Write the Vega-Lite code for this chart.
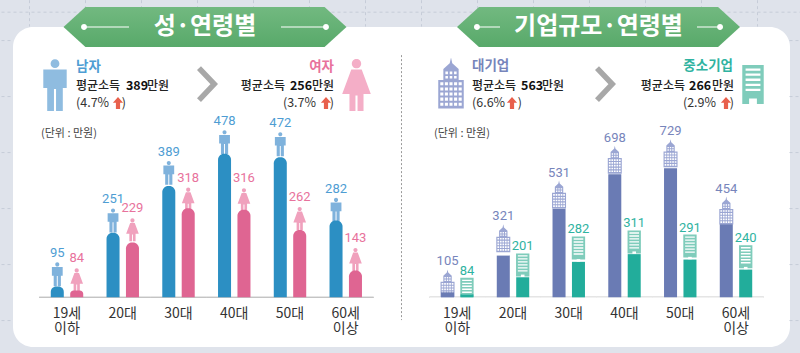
{"$schema":"https://vega.github.io/schema/vega-lite/v6.json","width":777,"height":320,"autosize":{"type":"none"},"padding":{"left":13,"top":27,"right":10,"bottom":6},"background":"#dfe3eb","view":{"fill":"#ffffff","stroke":null,"cornerRadius":20},"config":{"font":"Noto Sans CJK KR","point":{"opacity":1,"filled":true,"stroke":null},"tick":{"opacity":1},"text":{"baseline":"middle","font":"Noto Sans CJK KR"}},"resolve":{"scale":{"y":"independent"},"axis":{"y":"independent"}},"datasets":{"rows":[
{"panel":"성별","slot":"성별|19세 이하","series":"남자","rank":"a","value":95,"column":31},
{"panel":"성별","slot":"성별|19세 이하","series":"여자","rank":"b","value":84,"column":20},
{"panel":"성별","slot":"성별|20대","series":"남자","rank":"a","value":251,"column":187},
{"panel":"성별","slot":"성별|20대","series":"여자","rank":"b","value":229,"column":159},
{"panel":"성별","slot":"성별|30대","series":"남자","rank":"a","value":389,"column":323},
{"panel":"성별","slot":"성별|30대","series":"여자","rank":"b","value":318,"column":258},
{"panel":"성별","slot":"성별|40대","series":"남자","rank":"a","value":478,"column":416},
{"panel":"성별","slot":"성별|40대","series":"여자","rank":"b","value":316,"column":254},
{"panel":"성별","slot":"성별|50대","series":"남자","rank":"a","value":472,"column":406},
{"panel":"성별","slot":"성별|50대","series":"여자","rank":"b","value":262,"column":195},
{"panel":"성별","slot":"성별|60세 이상","series":"남자","rank":"a","value":282,"column":223},
{"panel":"성별","slot":"성별|60세 이상","series":"여자","rank":"b","value":143,"column":78},
{"panel":"기업","slot":"기업|19세 이하","series":"대기업","rank":"a","value":105,"column":24},
{"panel":"기업","slot":"기업|19세 이하","series":"중소기업","rank":"b","value":84,"column":14},
{"panel":"기업","slot":"기업|20대","series":"대기업","rank":"a","value":321,"column":200},
{"panel":"기업","slot":"기업|20대","series":"중소기업","rank":"b","value":201,"column":96},
{"panel":"기업","slot":"기업|30대","series":"대기업","rank":"a","value":531,"column":424},
{"panel":"기업","slot":"기업|30대","series":"중소기업","rank":"b","value":282,"column":170},
{"panel":"기업","slot":"기업|40대","series":"대기업","rank":"a","value":698,"column":590},
{"panel":"기업","slot":"기업|40대","series":"중소기업","rank":"b","value":311,"column":207},
{"panel":"기업","slot":"기업|50대","series":"대기업","rank":"a","value":729,"column":618},
{"panel":"기업","slot":"기업|50대","series":"중소기업","rank":"b","value":291,"column":181},
{"panel":"기업","slot":"기업|60세 이상","series":"대기업","rank":"a","value":454,"column":350},
{"panel":"기업","slot":"기업|60세 이상","series":"중소기업","rank":"b","value":240,"column":133}
]},"layer":[
{"data":{"values":[{"t":"배경"}]},"mark":{"type":"point","filled":false,"stroke":"#c6ccd8","strokeWidth":1,"strokeDash":[3,3],"size":640000,"shape":"M-1 -.411H1M-1 -.34H-.97M.97 -.34H1M-1 -.2H-.97M.97 -.2H1M-1 -.06H-.97M.97 -.06H1M-1 .08H-.97M.97 .08H1M-1 .22H-.97M.97 .22H1M-1 .36H-.97M.97 .36H1M-.93 -.441V-.375M-.79 -.441V-.375M-.65 -.441V-.375M-.51 -.441V-.375M-.37 -.441V-.375M-.23 -.441V-.375M-.09 -.441V-.375M.05 -.441V-.375M.19 -.441V-.375M.33 -.441V-.375M.47 -.441V-.375M.61 -.441V-.375M.75 -.441V-.375M.89 -.441V-.375"},"encoding":{"x":{"datum":"|","type":"nominal"},"y":{"datum":350,"type":"quantitative","scale":{"domain":[-144,783.5]},"axis":null}}},
{"data":{"name":"rows"},"transform":[{"filter":"datum.panel==='성별'"}],"mark":{"type":"tick","orient":"horizontal","thickness":1.2,"color":"#c4c4c4","size":55.75},"encoding":{"x":{"field":"slot","type":"nominal","title":null,"scale":{"domain":["성별|19세 이하","성별|20대","성별|30대","성별|40대","성별|50대","성별|60세 이상","|","기업|19세 이하","기업|20대","기업|30대","기업|40대","기업|50대","기업|60세 이상"],"paddingInner":0,"paddingOuter":0.4686,"align":0.5},"axis":{"orient":"bottom","offset":-49.7,"domain":false,"ticks":false,"labelAngle":0,"labelAlign":"center","labelPadding":9,"labelFontSize":14,"labelColor":"#333333","labelFont":"Noto Sans CJK KR","labelLineHeight":15.5,"labelBaseline":"top","labelExpr":"split(split(datum.label,'|')[1],' ')"}},"y":{"datum":0,"type":"quantitative","scale":{"domain":[-144,783.5]},"axis":null}}},
{"data":{"name":"rows"},"transform":[{"filter":"datum.panel==='기업'"}],"mark":{"type":"tick","orient":"horizontal","thickness":1.2,"color":"#c4c4c4","size":55.75},"encoding":{"x":{"field":"slot","type":"nominal"},"y":{"datum":0,"type":"quantitative","scale":{"domain":[-238,1295.3]},"axis":null}}},
{"data":{"values":[{"t":"구분선"}]},"mark":{"type":"rule","color":"#9a9a9a","strokeDash":[2,2],"strokeWidth":1},"encoding":{"x":{"datum":"|","type":"nominal"},"y":{"datum":702,"type":"quantitative","scale":{"domain":[-144,783.5]},"axis":null},"y2":{"datum":-66}}},

{"data":{"values":[{"t":"제목"}]},"mark":{"type":"point","xOffset":26.5,"size":80089,"color":{"gradient":"linear","x1":0,"y1":0,"x2":0,"y2":1,"stops":[{"offset":0,"color":"#72b980"},{"offset":1,"color":"#58a96a"}]},"shape":"M-1 0L-.845 -.141L.845 -.141L1 0L.845 .141L-.845 .141Z"},"encoding":{"x":{"datum":"성별|30대","type":"nominal"},"y":{"datum":783.5,"type":"quantitative","scale":{"domain":[-144,783.5]},"axis":null}}},
{"data":{"values":[{"t":"제목"}]},"mark":{"type":"point","xOffset":29.75,"size":80089,"color":{"gradient":"linear","x1":0,"y1":0,"x2":0,"y2":1,"stops":[{"offset":0,"color":"#72b980"},{"offset":1,"color":"#58a96a"}]},"shape":"M-1 0L-.845 -.141L.845 -.141L1 0L.845 .141L-.845 .141Z"},"encoding":{"x":{"datum":"기업|30대","type":"nominal"},"y":{"datum":783.5,"type":"quantitative","scale":{"domain":[-144,783.5]},"axis":null}}},
{"data":{"values":[{"t":"장식"}]},"mark":{"type":"point","xOffset":26.5,"size":80089,"color":"#ffffff","shape":"M-.876 0A.021 .021 0 1 1 -.834 0A.021 .021 0 1 1 -.876 0ZM-.855 -.003H-.537V.003H-.855ZM.855 -.003V.003H.537V-.003ZM.834 0A.021 .021 0 1 1 .876 0A.021 .021 0 1 1 .834 0Z"},"encoding":{"x":{"datum":"성별|30대","type":"nominal"},"y":{"datum":783.5,"type":"quantitative","scale":{"domain":[-144,783.5]},"axis":null}}},
{"data":{"values":[{"t":"장식"}]},"mark":{"type":"point","xOffset":29.75,"size":80089,"color":"#ffffff","shape":"M-.88 0A.021 .021 0 1 1 -.838 0A.021 .021 0 1 1 -.88 0ZM-.86 -.003H-.696V.003H-.86ZM.86 -.003V.003H.696V-.003ZM.838 0A.021 .021 0 1 1 .88 0A.021 .021 0 1 1 .838 0Z"},"encoding":{"x":{"datum":"기업|30대","type":"nominal"},"y":{"datum":783.5,"type":"quantitative","scale":{"domain":[-144,783.5]},"axis":null}}},
{"data":{"values":[{"t":"성·연령별"}]},"mark":{"type":"text","dx":26.5,"fontSize":24,"fontWeight":700,"color":"#ffffff"},"encoding":{"text":{"field":"t"},"x":{"datum":"성별|30대","type":"nominal"},"y":{"datum":783.5,"type":"quantitative","scale":{"domain":[-144,783.5]},"axis":null}}},
{"data":{"values":[{"t":"기업규모·연령별"}]},"mark":{"type":"text","dx":29.75,"fontSize":24,"fontWeight":700,"color":"#ffffff"},"encoding":{"text":{"field":"t"},"x":{"datum":"기업|30대","type":"nominal"},"y":{"datum":783.5,"type":"quantitative","scale":{"domain":[-144,783.5]},"axis":null}}},

{"data":{"name":"rows"},"transform":[{"filter":"datum.series==='남자'"}],"mark":{"type":"point","yOffset":9.7,"size":576,"color":"#7fb2dc","shape":"M-.17 -.82A.17 .17 0 1 1 .17 -.82A.17 .17 0 1 1 -.17 -.82ZM-.45 -.6L.45 -.6L.45 .12L.3 .12L.3 1L.04 1L.04 .15L-.04 .15L-.04 1L-.3 1L-.3 .12L-.45 .12Z"},"encoding":{"x":{"field":"slot","type":"nominal"},"xOffset":{"field":"rank","type":"nominal","scale":{"domain":["a","b"],"paddingInner":0.33,"paddingOuter":0.6}},"y":{"field":"value","type":"quantitative","scale":{"domain":[-144,783.5]},"axis":null}}},
{"data":{"name":"rows"},"transform":[{"filter":"datum.series==='여자'"}],"mark":{"type":"point","yOffset":11.5,"size":529,"color":"#f0a1bd","shape":"M-.18 -.82A.18 .18 0 1 1 .18 -.82A.18 .18 0 1 1 -.18 -.82ZM-.2 -.6L.2 -.6L.55 .35L.27 .35L.27 1L.04 1L.04 .4L-.04 .4L-.04 1L-.27 1L-.27 .35L-.55 .35Z"},"encoding":{"x":{"field":"slot","type":"nominal"},"xOffset":{"field":"rank","type":"nominal"},"y":{"field":"value","type":"quantitative","scale":{"domain":[-144,783.5]},"axis":null}}},
{"data":{"name":"rows"},"transform":[{"filter":"datum.series==='대기업'"}],"mark":{"type":"point","yOffset":8,"size":784,"color":"#9ba6d3","shape":"M0 -1L.05 -.78L.3 -.55L.3 -.12L.5 -.12L.5 1L-.5 1L-.5 -.12L-.3 -.12L-.3 -.55L-.05 -.78ZM-.22 -.45v.1h.1v-.1zM-.05 -.45v.1h.1v-.1zM.12 -.45v.1h.1v-.1zM-.22 -.28v.1h.1v-.1zM-.05 -.28v.1h.1v-.1zM.12 -.28v.1h.1v-.1zM-.42 -.03v.12h.12v-.12zM-.24 -.03v.12h.12v-.12zM-.06 -.03v.12h.12v-.12zM.12 -.03v.12h.12v-.12zM.3 -.03v.12h.12v-.12zM-.42 .17v.12h.12v-.12zM-.24 .17v.12h.12v-.12zM-.06 .17v.12h.12v-.12zM.12 .17v.12h.12v-.12zM.3 .17v.12h.12v-.12zM-.42 .37v.12h.12v-.12zM-.24 .37v.12h.12v-.12zM-.06 .37v.12h.12v-.12zM.12 .37v.12h.12v-.12zM.3 .37v.12h.12v-.12zM-.42 .57v.12h.12v-.12zM-.24 .57v.12h.12v-.12zM-.06 .57v.12h.12v-.12zM.12 .57v.12h.12v-.12zM.3 .57v.12h.12v-.12zM-.42 .77v.12h.12v-.12zM-.24 .77v.12h.12v-.12zM-.06 .77v.12h.12v-.12zM.12 .77v.12h.12v-.12zM.3 .77v.12h.12v-.12z"},"encoding":{"x":{"field":"slot","type":"nominal"},"xOffset":{"field":"rank","type":"nominal"},"y":{"field":"value","type":"quantitative","scale":{"domain":[-238,1295.3]},"axis":null}}},
{"data":{"name":"rows"},"transform":[{"filter":"datum.series==='중소기업'"}],"mark":{"type":"point","yOffset":9.5,"size":529,"color":"#7fccbb","shape":"M-.58 -1H.58V1H-.58ZM-.42 -.84v.12h.84v-.12zM-.42 -.58v.12h.84v-.12zM-.42 -.32v.12h.84v-.12zM-.42 -.06v.12h.84v-.12zM-.42 .2v.12h.84v-.12zM-.42 .46v.12h.84v-.12z"},"encoding":{"x":{"field":"slot","type":"nominal"},"xOffset":{"field":"rank","type":"nominal"},"y":{"field":"value","type":"quantitative","scale":{"domain":[-238,1295.3]},"axis":null}}},

{"data":{"name":"rows"},"transform":[{"filter":"datum.panel==='기업'"}],"mark":{"type":"bar","color":"#ffffff"},"encoding":{"x":{"field":"slot","type":"nominal"},"y":{"datum":-1,"type":"quantitative","scale":{"domain":[-238,1295.3]},"axis":null},"y2":{"datum":-30}}},

{"data":{"name":"rows"},"transform":[{"filter":"datum.panel==='성별'"}],"mark":{"type":"bar","cornerRadiusTopLeft":6,"cornerRadiusTopRight":6},"encoding":{"x":{"field":"slot","type":"nominal"},"xOffset":{"field":"rank","type":"nominal"},"y":{"field":"column","type":"quantitative","scale":{"domain":[-144,783.5]},"axis":null},"y2":{"datum":0},"color":{"field":"series","type":"nominal","legend":null,"scale":{"domain":["남자","여자","대기업","중소기업"],"range":["#2c8fc3","#df6592","#6a7bb4","#22ad9b"]}}}},
{"data":{"name":"rows"},"transform":[{"filter":"datum.panel==='기업'"}],"mark":{"type":"bar"},"encoding":{"x":{"field":"slot","type":"nominal"},"xOffset":{"field":"rank","type":"nominal"},"y":{"field":"column","type":"quantitative","scale":{"domain":[-238,1295.3]},"axis":null},"y2":{"datum":0},"color":{"field":"series","type":"nominal","legend":null}}},
{"data":{"name":"rows"},"transform":[{"filter":"datum.series==='중소기업' && datum.column>50"}],"mark":{"type":"point","yOffset":-1.5,"size":36,"color":"#ffffff","shape":"M-.6 -.4H.6V.4H-.6Z"},"encoding":{"x":{"field":"slot","type":"nominal"},"xOffset":{"field":"rank","type":"nominal"},"y":{"field":"column","type":"quantitative","scale":{"domain":[-238,1295.3]},"axis":null}}},

{"data":{"name":"rows"},"transform":[{"filter":"datum.series==='남자'"}],"mark":{"type":"text","dy":-11.5,"font":"Roboto","fontSize":13,"color":"#4e9dd3"},"encoding":{"text":{"field":"value"},"x":{"field":"slot","type":"nominal"},"xOffset":{"field":"rank","type":"nominal"},"y":{"field":"value","type":"quantitative","scale":{"domain":[-144,783.5]},"axis":null}}},
{"data":{"name":"rows"},"transform":[{"filter":"datum.series==='여자'"}],"mark":{"type":"text","dy":-10,"font":"Roboto","fontSize":13,"color":"#e8729c"},"encoding":{"text":{"field":"value"},"x":{"field":"slot","type":"nominal"},"xOffset":{"field":"rank","type":"nominal"},"y":{"field":"value","type":"quantitative","scale":{"domain":[-144,783.5]},"axis":null}}},
{"data":{"name":"rows"},"transform":[{"filter":"datum.series==='대기업'"}],"mark":{"type":"text","dy":-14,"font":"Roboto","fontSize":13,"color":"#7785bb"},"encoding":{"text":{"field":"value"},"x":{"field":"slot","type":"nominal"},"xOffset":{"field":"rank","type":"nominal"},"y":{"field":"value","type":"quantitative","scale":{"domain":[-238,1295.3]},"axis":null}}},
{"data":{"name":"rows"},"transform":[{"filter":"datum.series==='중소기업'"}],"mark":{"type":"text","dy":-9,"font":"Roboto","fontSize":13,"color":"#2fb3a1"},"encoding":{"text":{"field":"value"},"x":{"field":"slot","type":"nominal"},"xOffset":{"field":"rank","type":"nominal"},"y":{"field":"value","type":"quantitative","scale":{"domain":[-238,1295.3]},"axis":null}}},

{"data":{"values":[{"t":"남자"}]},"mark":{"type":"point","xOffset":-12,"size":2704,"color":"#8fbce0","shape":"M-.17 -.82A.17 .17 0 1 1 .17 -.82A.17 .17 0 1 1 -.17 -.82ZM-.45 -.6L.45 -.6L.45 .12L.3 .12L.3 1L.04 1L.04 .15L-.04 .15L-.04 1L-.3 1L-.3 .12L-.45 .12Z"},"encoding":{"x":{"datum":"성별|19세 이하","type":"nominal"},"y":{"datum":615.4,"type":"quantitative","scale":{"domain":[-144,783.5]},"axis":null}}},
{"data":{"values":[{"t":"여자"}]},"mark":{"type":"point","xOffset":10.75,"size":2704,"color":"#f4aec7","shape":"M-.18 -.82A.18 .18 0 1 1 .18 -.82A.18 .18 0 1 1 -.18 -.82ZM-.2 -.6L.2 -.6L.55 .35L.27 .35L.27 1L.04 1L.04 .4L-.04 .4L-.04 1L-.27 1L-.27 .35L-.55 .35Z"},"encoding":{"x":{"datum":"성별|60세 이상","type":"nominal"},"y":{"datum":615.4,"type":"quantitative","scale":{"domain":[-144,783.5]},"axis":null}}},
{"data":{"values":[{"t":"대기업"}]},"mark":{"type":"point","xOffset":-6.25,"size":2601,"color":"#9ba6d3","shape":"M0 -1L.05 -.78L.3 -.55L.3 -.12L.5 -.12L.5 1L-.5 1L-.5 -.12L-.3 -.12L-.3 -.55L-.05 -.78ZM-.22 -.45v.1h.1v-.1zM-.05 -.45v.1h.1v-.1zM.12 -.45v.1h.1v-.1zM-.22 -.28v.1h.1v-.1zM-.05 -.28v.1h.1v-.1zM.12 -.28v.1h.1v-.1zM-.42 -.03v.12h.12v-.12zM-.24 -.03v.12h.12v-.12zM-.06 -.03v.12h.12v-.12zM.12 -.03v.12h.12v-.12zM.3 -.03v.12h.12v-.12zM-.42 .17v.12h.12v-.12zM-.24 .17v.12h.12v-.12zM-.06 .17v.12h.12v-.12zM.12 .17v.12h.12v-.12zM.3 .17v.12h.12v-.12zM-.42 .37v.12h.12v-.12zM-.24 .37v.12h.12v-.12zM-.06 .37v.12h.12v-.12zM.12 .37v.12h.12v-.12zM.3 .37v.12h.12v-.12zM-.42 .57v.12h.12v-.12zM-.24 .57v.12h.12v-.12zM-.06 .57v.12h.12v-.12zM.12 .57v.12h.12v-.12zM.3 .57v.12h.12v-.12zM-.42 .77v.12h.12v-.12zM-.24 .77v.12h.12v-.12zM-.06 .77v.12h.12v-.12zM.12 .77v.12h.12v-.12zM.3 .77v.12h.12v-.12z"},"encoding":{"x":{"datum":"기업|19세 이하","type":"nominal"},"y":{"datum":621,"type":"quantitative","scale":{"domain":[-144,783.5]},"axis":null}}},
{"data":{"values":[{"t":"중소기업"}]},"mark":{"type":"point","xOffset":17,"size":1521,"color":"#7fccbb","shape":"M-.55 -1H.55V1H.2V.72H-.2V1H-.55ZM-.38 -.82v.12h.76v-.12zM-.38 -.56v.12h.76v-.12zM-.38 -.3v.12h.76v-.12zM-.38 -.04v.12h.76v-.12zM-.38 .22v.12h.76v-.12z"},"encoding":{"x":{"datum":"기업|60세 이상","type":"nominal"},"y":{"datum":617,"type":"quantitative","scale":{"domain":[-144,783.5]},"axis":null}}},
{"data":{"values":[{"t":"더 높음"}]},"mark":{"type":"point","filled":false,"xOffset":28.5,"size":1024,"stroke":"#a8a8a8","strokeWidth":5.5,"shape":"M-.5 -1L.45 0L-.5 1"},"encoding":{"x":{"datum":"성별|30대","type":"nominal"},"y":{"datum":618,"type":"quantitative","scale":{"domain":[-144,783.5]},"axis":null}}},
{"data":{"values":[{"t":"더 높음"}]},"mark":{"type":"point","filled":false,"xOffset":36.25,"size":1024,"stroke":"#a8a8a8","strokeWidth":5.5,"shape":"M-.5 -1L.45 0L-.5 1"},"encoding":{"x":{"datum":"기업|30대","type":"nominal"},"y":{"datum":618,"type":"quantitative","scale":{"domain":[-144,783.5]},"axis":null}}},

{"data":{"values":[{"t":"남자"}]},"mark":{"type":"text","align":"left","dx":9,"fontSize":13.5,"fontWeight":700,"color":"#4e9dd3"},"encoding":{"text":{"field":"t"},"x":{"datum":"성별|19세 이하","type":"nominal"},"y":{"datum":667,"type":"quantitative","scale":{"domain":[-144,783.5]},"axis":null}}},
{"data":{"values":[{"t":"평균소득"}]},"mark":{"type":"text","align":"left","dx":9,"fontSize":12,"fontWeight":500,"color":"#222222"},"encoding":{"text":{"field":"t"},"x":{"datum":"성별|19세 이하","type":"nominal"},"y":{"datum":612,"type":"quantitative","scale":{"domain":[-144,783.5]},"axis":null}}},
{"data":{"values":[{"t":"389"}]},"mark":{"type":"text","align":"left","dx":59,"fontSize":12.5,"fontWeight":700,"color":"#111111"},"encoding":{"text":{"field":"t"},"x":{"datum":"성별|19세 이하","type":"nominal"},"y":{"datum":612,"type":"quantitative","scale":{"domain":[-144,783.5]},"axis":null}}},
{"data":{"values":[{"t":"만원"}]},"mark":{"type":"text","align":"left","dx":80,"fontSize":12,"fontWeight":500,"color":"#222222"},"encoding":{"text":{"field":"t"},"x":{"datum":"성별|19세 이하","type":"nominal"},"y":{"datum":612,"type":"quantitative","scale":{"domain":[-144,783.5]},"axis":null}}},
{"data":{"values":[{"t":"(4.7%"}]},"mark":{"type":"text","align":"left","dx":9,"fontSize":12.5,"color":"#333333"},"encoding":{"text":{"field":"t"},"x":{"datum":"성별|19세 이하","type":"nominal"},"y":{"datum":563,"type":"quantitative","scale":{"domain":[-144,783.5]},"axis":null}}},
{"data":{"values":[{"t":")"}]},"mark":{"type":"text","align":"right","dx":59,"fontSize":12.5,"color":"#333333"},"encoding":{"text":{"field":"t"},"x":{"datum":"성별|19세 이하","type":"nominal"},"y":{"datum":563,"type":"quantitative","scale":{"domain":[-144,783.5]},"axis":null}}},
{"data":{"values":[{"t":"상승"}]},"mark":{"type":"point","xOffset":51,"size":144,"color":"#e8604c","shape":"M0 -1L.85 -.05L.35 -.05L.35 1L-.35 1L-.35 -.05L-.85 -.05Z"},"encoding":{"x":{"datum":"성별|19세 이하","type":"nominal"},"y":{"datum":563,"type":"quantitative","scale":{"domain":[-144,783.5]},"axis":null}}},

{"data":{"values":[{"t":"여자"}]},"mark":{"type":"text","align":"right","dx":-11.75,"fontSize":13.5,"fontWeight":700,"color":"#e8729c"},"encoding":{"text":{"field":"t"},"x":{"datum":"성별|60세 이상","type":"nominal"},"y":{"datum":667,"type":"quantitative","scale":{"domain":[-144,783.5]},"axis":null}}},
{"data":{"values":[{"t":"평균소득"}]},"mark":{"type":"text","align":"right","dx":-60.75,"fontSize":12,"fontWeight":500,"color":"#222222"},"encoding":{"text":{"field":"t"},"x":{"datum":"성별|60세 이상","type":"nominal"},"y":{"datum":612,"type":"quantitative","scale":{"domain":[-144,783.5]},"axis":null}}},
{"data":{"values":[{"t":"256"}]},"mark":{"type":"text","align":"left","dx":-55.75,"fontSize":12.5,"fontWeight":700,"color":"#111111"},"encoding":{"text":{"field":"t"},"x":{"datum":"성별|60세 이상","type":"nominal"},"y":{"datum":612,"type":"quantitative","scale":{"domain":[-144,783.5]},"axis":null}}},
{"data":{"values":[{"t":"만원"}]},"mark":{"type":"text","align":"right","dx":-11.75,"fontSize":12,"fontWeight":500,"color":"#222222"},"encoding":{"text":{"field":"t"},"x":{"datum":"성별|60세 이상","type":"nominal"},"y":{"datum":612,"type":"quantitative","scale":{"domain":[-144,783.5]},"axis":null}}},
{"data":{"values":[{"t":"(3.7%"}]},"mark":{"type":"text","align":"right","dx":-29.75,"fontSize":12.5,"color":"#333333"},"encoding":{"text":{"field":"t"},"x":{"datum":"성별|60세 이상","type":"nominal"},"y":{"datum":563,"type":"quantitative","scale":{"domain":[-144,783.5]},"axis":null}}},
{"data":{"values":[{"t":")"}]},"mark":{"type":"text","align":"right","dx":-11.75,"fontSize":12.5,"color":"#333333"},"encoding":{"text":{"field":"t"},"x":{"datum":"성별|60세 이상","type":"nominal"},"y":{"datum":563,"type":"quantitative","scale":{"domain":[-144,783.5]},"axis":null}}},
{"data":{"values":[{"t":"상승"}]},"mark":{"type":"point","xOffset":-19.75,"size":144,"color":"#e8604c","shape":"M0 -1L.85 -.05L.35 -.05L.35 1L-.35 1L-.35 -.05L-.85 -.05Z"},"encoding":{"x":{"datum":"성별|60세 이상","type":"nominal"},"y":{"datum":563,"type":"quantitative","scale":{"domain":[-144,783.5]},"axis":null}}},

{"data":{"values":[{"t":"대기업"}]},"mark":{"type":"text","align":"left","dx":14.75,"fontSize":13.5,"fontWeight":700,"color":"#7785bb"},"encoding":{"text":{"field":"t"},"x":{"datum":"기업|19세 이하","type":"nominal"},"y":{"datum":670,"type":"quantitative","scale":{"domain":[-144,783.5]},"axis":null}}},
{"data":{"values":[{"t":"평균소득"}]},"mark":{"type":"text","align":"left","dx":14.75,"fontSize":12,"fontWeight":500,"color":"#222222"},"encoding":{"text":{"field":"t"},"x":{"datum":"기업|19세 이하","type":"nominal"},"y":{"datum":612,"type":"quantitative","scale":{"domain":[-144,783.5]},"axis":null}}},
{"data":{"values":[{"t":"563"}]},"mark":{"type":"text","align":"left","dx":63.75,"fontSize":12.5,"fontWeight":700,"color":"#111111"},"encoding":{"text":{"field":"t"},"x":{"datum":"기업|19세 이하","type":"nominal"},"y":{"datum":612,"type":"quantitative","scale":{"domain":[-144,783.5]},"axis":null}}},
{"data":{"values":[{"t":"만원"}]},"mark":{"type":"text","align":"left","dx":84.75,"fontSize":12,"fontWeight":500,"color":"#222222"},"encoding":{"text":{"field":"t"},"x":{"datum":"기업|19세 이하","type":"nominal"},"y":{"datum":612,"type":"quantitative","scale":{"domain":[-144,783.5]},"axis":null}}},
{"data":{"values":[{"t":"(6.6%"}]},"mark":{"type":"text","align":"left","dx":14.75,"fontSize":12.5,"color":"#333333"},"encoding":{"text":{"field":"t"},"x":{"datum":"기업|19세 이하","type":"nominal"},"y":{"datum":563,"type":"quantitative","scale":{"domain":[-144,783.5]},"axis":null}}},
{"data":{"values":[{"t":")"}]},"mark":{"type":"text","align":"right","dx":64.75,"fontSize":12.5,"color":"#333333"},"encoding":{"text":{"field":"t"},"x":{"datum":"기업|19세 이하","type":"nominal"},"y":{"datum":563,"type":"quantitative","scale":{"domain":[-144,783.5]},"axis":null}}},
{"data":{"values":[{"t":"상승"}]},"mark":{"type":"point","xOffset":54.75,"size":144,"color":"#e8604c","shape":"M0 -1L.85 -.05L.35 -.05L.35 1L-.35 1L-.35 -.05L-.85 -.05Z"},"encoding":{"x":{"datum":"기업|19세 이하","type":"nominal"},"y":{"datum":563,"type":"quantitative","scale":{"domain":[-144,783.5]},"axis":null}}},

{"data":{"values":[{"t":"중소기업"}]},"mark":{"type":"text","align":"right","dx":-3,"fontSize":13.5,"fontWeight":700,"color":"#2fb3a1"},"encoding":{"text":{"field":"t"},"x":{"datum":"기업|60세 이상","type":"nominal"},"y":{"datum":670,"type":"quantitative","scale":{"domain":[-144,783.5]},"axis":null}}},
{"data":{"values":[{"t":"평균소득"}]},"mark":{"type":"text","align":"right","dx":-51,"fontSize":12,"fontWeight":500,"color":"#222222"},"encoding":{"text":{"field":"t"},"x":{"datum":"기업|60세 이상","type":"nominal"},"y":{"datum":612,"type":"quantitative","scale":{"domain":[-144,783.5]},"axis":null}}},
{"data":{"values":[{"t":"266"}]},"mark":{"type":"text","align":"left","dx":-47,"fontSize":12.5,"fontWeight":700,"color":"#111111"},"encoding":{"text":{"field":"t"},"x":{"datum":"기업|60세 이상","type":"nominal"},"y":{"datum":612,"type":"quantitative","scale":{"domain":[-144,783.5]},"axis":null}}},
{"data":{"values":[{"t":"만원"}]},"mark":{"type":"text","align":"right","dx":-2,"fontSize":12,"fontWeight":500,"color":"#222222"},"encoding":{"text":{"field":"t"},"x":{"datum":"기업|60세 이상","type":"nominal"},"y":{"datum":612,"type":"quantitative","scale":{"domain":[-144,783.5]},"axis":null}}},
{"data":{"values":[{"t":"(2.9%"}]},"mark":{"type":"text","align":"right","dx":-20,"fontSize":12.5,"color":"#333333"},"encoding":{"text":{"field":"t"},"x":{"datum":"기업|60세 이상","type":"nominal"},"y":{"datum":563,"type":"quantitative","scale":{"domain":[-144,783.5]},"axis":null}}},
{"data":{"values":[{"t":")"}]},"mark":{"type":"text","align":"right","dx":-2,"fontSize":12.5,"color":"#333333"},"encoding":{"text":{"field":"t"},"x":{"datum":"기업|60세 이상","type":"nominal"},"y":{"datum":563,"type":"quantitative","scale":{"domain":[-144,783.5]},"axis":null}}},
{"data":{"values":[{"t":"상승"}]},"mark":{"type":"point","xOffset":-10,"size":144,"color":"#e8604c","shape":"M0 -1L.85 -.05L.35 -.05L.35 1L-.35 1L-.35 -.05L-.85 -.05Z"},"encoding":{"x":{"datum":"기업|60세 이상","type":"nominal"},"y":{"datum":563,"type":"quantitative","scale":{"domain":[-144,783.5]},"axis":null}}},

{"data":{"values":[{"t":"(단위 : 만원)"}]},"mark":{"type":"text","align":"left","dx":-26,"fontSize":11,"color":"#444444"},"encoding":{"text":{"field":"t"},"x":{"datum":"성별|19세 이하","type":"nominal"},"y":{"datum":473,"type":"quantitative","scale":{"domain":[-144,783.5]},"axis":null}}},
{"data":{"values":[{"t":"(단위 : 만원)"}]},"mark":{"type":"text","align":"left","dx":-23.25,"fontSize":11,"color":"#444444"},"encoding":{"text":{"field":"t"},"x":{"datum":"기업|19세 이하","type":"nominal"},"y":{"datum":473,"type":"quantitative","scale":{"domain":[-144,783.5]},"axis":null}}}
]}
